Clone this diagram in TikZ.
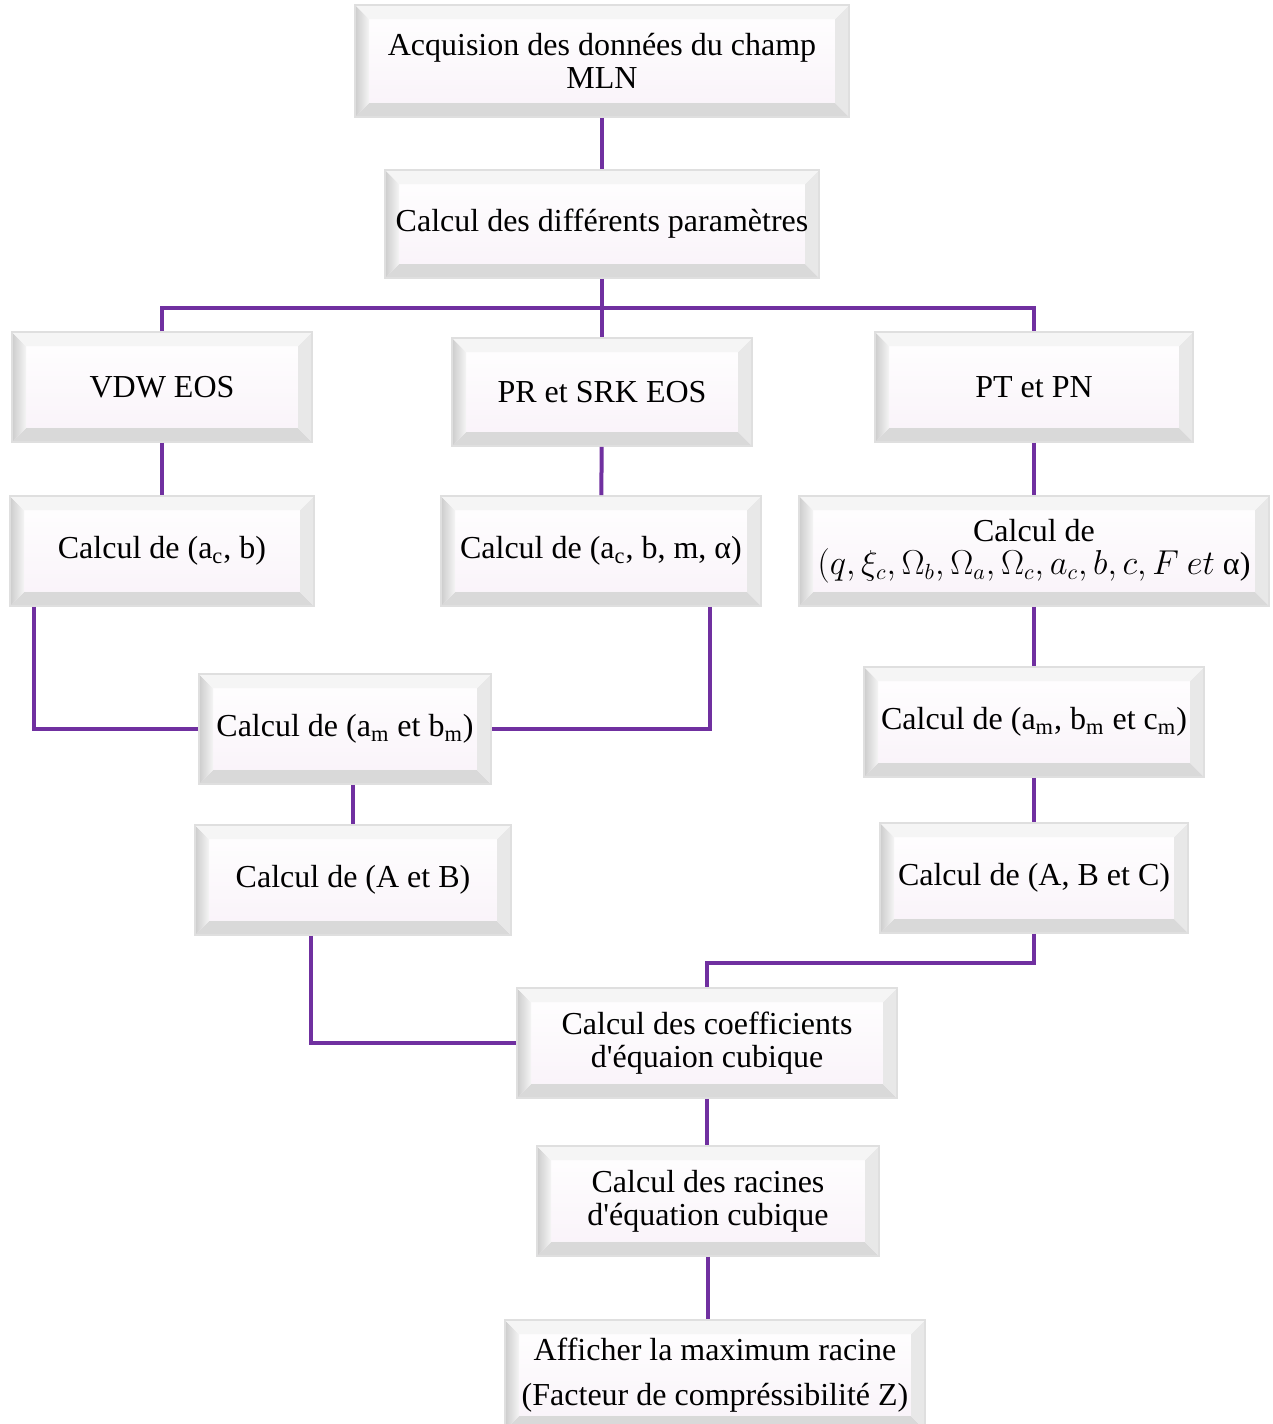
\documentclass[tikz,border=0pt]{standalone}
\usepackage{fontspec}
\setmainfont{Liberation Serif}[Ligatures=TeXOff]
\definecolor{lineviolet}{RGB}{112,48,160}
\begin{document}
\begin{tikzpicture}[x=0.5pt, y=-0.5pt,
	box/.style = {shape=rectangle, draw=gray!25, line width=0.8pt, align=center, top color=white, bottom color=violet!5, font=\fontsize{16}{16.5}\selectfont,
		path picture={
			\fill[gray!30] (path picture bounding box.south west) -- (path picture bounding box.south east) -- ([shift={(-7pt,7pt)}]path picture bounding box.south east) -- ([shift={(7pt,7pt)}]path picture bounding box.south west) -- cycle;
			\fill[gray!18] (path picture bounding box.south east) -- (path picture bounding box.north east) -- ([shift={(-7pt,-7pt)}]path picture bounding box.north east) -- ([shift={(-7pt,7pt)}]path picture bounding box.south east) -- cycle;
			\shade[left color=gray!40, right color=gray!8] (path picture bounding box.south west) -- (path picture bounding box.north west) -- ([shift={(7pt,-7pt)}]path picture bounding box.north west) -- ([shift={(7pt,7pt)}]path picture bounding box.south west) -- cycle;
			\fill[gray!8] (path picture bounding box.north west) -- (path picture bounding box.north east) -- ([shift={(-7pt,-7pt)}]path picture bounding box.north east) -- ([shift={(7pt,-7pt)}]path picture bounding box.north west) -- cycle;}},
	link/.style = {draw=lineviolet, line width=2pt}]
	\useasboundingbox (0,0) rectangle (1273,1424);
	\node[box, minimum width=247pt, minimum height=56pt] (acq) at (602,61) {Acquision des données du champ\\MLN};
	\node[box, minimum width=217pt, minimum height=54pt] (diff) at (602,224) {Calcul des différents paramètres};
	\node[box, minimum width=150pt, minimum height=55pt] (vdw) at (162,387) {VDW EOS};
	\node[box, minimum width=150pt, minimum height=54pt] (pr) at (602,392) {PR et SRK EOS};
	\node[box, minimum width=159pt, minimum height=55pt] (pt) at (1034,387) {PT et PN};
	\node[box, minimum width=152pt, minimum height=55pt] (acb) at (162,551) {Calcul de (a\textsubscript{c}, b)};
	\node[box, minimum width=160pt, minimum height=55pt] (acbm) at (601,551) {Calcul de (a\textsubscript{c}, b, m, α)};
	\node[box, minimum width=235pt, minimum height=55pt] (qxi) at (1034,551) {Calcul de\\$(q, \xi_c, \Omega_b, \Omega_a, \Omega_c, a_c, b, c, F\ et$ α)};
	\node[box, minimum width=146pt, minimum height=55pt] (ambm) at (345,729) {Calcul de (a\textsubscript{m} et b\textsubscript{m})};
	\node[box, minimum width=170pt, minimum height=55pt] (ambmcm) at (1034,722) {Calcul de (a\textsubscript{m}, b\textsubscript{m} et c\textsubscript{m})};
	\node[box, minimum width=158pt, minimum height=55pt] (ab) at (353,880) {Calcul de (A et B)};
	\node[box, minimum width=154pt, minimum height=55pt] (abc) at (1034,878) {Calcul de (A, B et C)};
	\node[box, minimum width=190pt, minimum height=55pt] (coeff) at (707,1043) {Calcul des coefficients\\d'équaion cubique};
	\node[box, minimum width=171pt, minimum height=55pt] (rac) at (708,1201) {Calcul des racines\\d'équation cubique};
	\node[box, minimum width=210pt, minimum height=55pt] (aff) at (715,1375) {Afficher la maximum racine\\[6pt](Facteur de compréssibilité Z)};
	\draw[link] (acq) -- (diff);
	\draw[link] (diff.south) -- ++(0,29) coordinate (bus);
	\draw[link] (vdw.north) |- (bus) -| (pt.north);
	\draw[link] (bus) -- (pr.north);
	\draw[link] (vdw) -- (acb);
	\draw[link] (pr) -- (acbm);
	\draw[link] (pt) -- (qxi);
	\draw[link] ([xshift=12.5pt]acb.south west) |- (ambm.west);
	\draw[link] ([xshift=54.5pt]acbm.south) |- (ambm.east);
	\draw[link] (ab.north |- ambm.south) -- (ab.north);
	\draw[link] (qxi) -- (ambmcm);
	\draw[link] (ambmcm) -- (abc);
	\draw[link] (abc.south) -- ++(0,29) -| (coeff.north);
	\draw[link] ([xshift=-21pt]ab.south) |- (coeff.west);
	\draw[link] (coeff.south) -- (coeff.south |- rac.north);
	\draw[link] (rac.south) -- (rac.south |- aff.north);
\end{tikzpicture}
\end{document}
